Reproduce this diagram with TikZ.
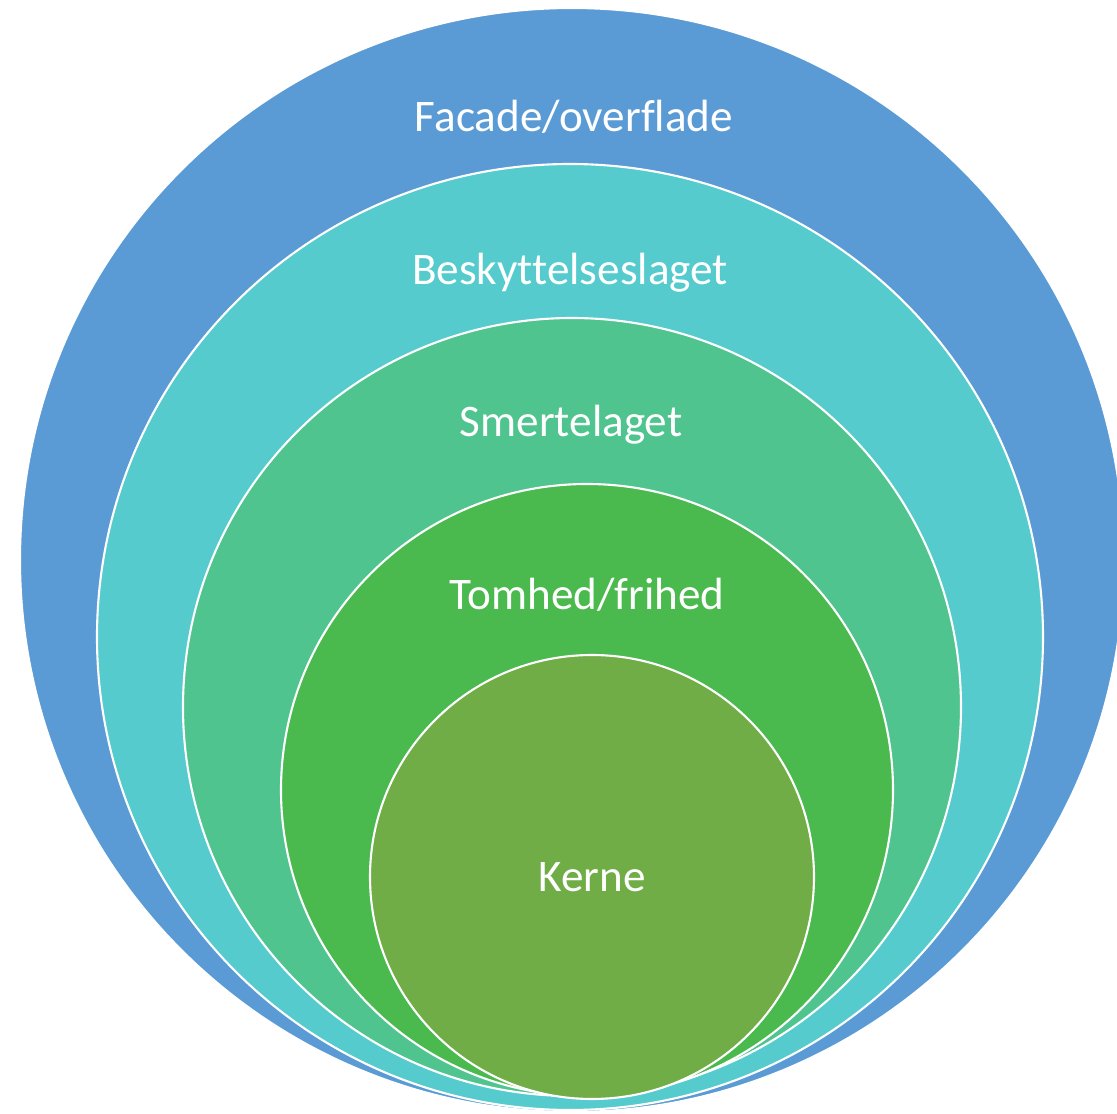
\documentclass[tikz,border=0pt]{standalone}
\usepackage{fontspec}
\setmainfont{Carlito}[Ligatures={NoCommon,NoContextual}]
\usepackage{tikz}
\newcommand{\unitpx}{0.02cm}
\definecolor{layerBlue}{HTML}{5B9BD5}
\definecolor{layerTeal}{HTML}{55CBCD}
\definecolor{layerMint}{HTML}{4FC48F}
\definecolor{layerGreen}{HTML}{4AB94E}
\definecolor{layerOlive}{HTML}{70AD47}
\usetikzlibrary{positioning}
\tikzset{
  x=\unitpx, y=-\unitpx,
  layer/.style={draw=white,line width=1.2pt,shape=circle,inner sep=0,minimum size=#1*\unitpx},
  lbl/.style={text=white,font=\fontsize{25.7pt}{30pt}\selectfont,inner sep=0},
}
\begin{document}
\begin{tikzpicture}
      \useasboundingbox (0,0) rectangle (1117,1114);
      \node (facade) [layer=1104,fill=layerBlue] at (572,560) {};
      \node (beskyt) [layer=946,fill=layerTeal] at (570,637) {};
      \node (smerte) [layer=778,fill=layerMint] at (572,707) {};
      \node (tomhed) [layer=612,fill=layerGreen] at (587,790) {};
      \node (kerne) [layer=444,fill=layerOlive] at (592,877) {};
      \node (facadetxt) [lbl] at (574,117) {Facade/overf\kern0ptlade};
      \node (beskyttxt) [lbl] at (570,273) {Beskyttelseslaget};
      \node (smertetxt) [lbl] at (571,425) {Smertelaget};
      \node (tomhedtxt) [lbl] at (587,595) {Tomhed/frihed};
      \node (kernetxt) [lbl] at (kerne) {Kerne};
    \end{tikzpicture}
\end{document}
